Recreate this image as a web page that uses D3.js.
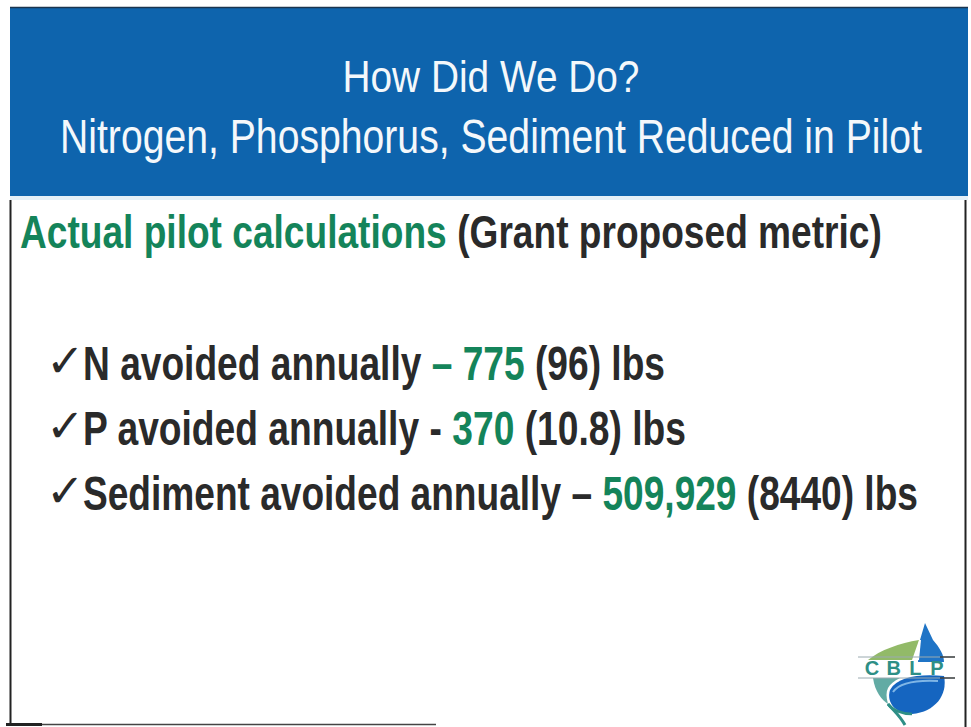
<!DOCTYPE html>
<html><head><meta charset="utf-8">
<script src="https://cdn.jsdelivr.net/npm/d3@7/dist/d3.min.js"></script>
<style>html,body{margin:0;padding:0;background:#fff;}svg{display:block;}</style>
</head><body>
<script>
// ---- data ----
const titleLines = ["How Did We Do?", "Nitrogen, Phosphorus, Sediment Reduced in Pilot"];
const subheadGreen = "Actual pilot calculations";
const subheadDark = " (Grant proposed metric)";
const nutrients = ["N", "P", "Sediment"];
const separators = ["\u2013", "-", "\u2013"];
const actualValues = ["775", "370", "509,929"];
const proposedValues = ["96", "10.8", "8440"];
const unitLabel = "lbs";
const logoLetters = ["C", "B", "L", "P"];

// ---- style ----
const W = 971, H = 727;
const BLUE = "#0e64ad", GREEN = "#14845a", DARK = "#2a2a2a", TEAL = "#2e8f86";
const NARROW = "'Liberation Sans Narrow','Arial Narrow','Liberation Sans',Arial,sans-serif";

const svg = d3.select("body").append("svg").attr("width", W).attr("height", H);
svg.append("rect").attr("width", W).attr("height", H).attr("fill", "#fff");

// header band
svg.append("rect").attr("x", 10).attr("y", 7).attr("width", 958).attr("height", 189).attr("fill", BLUE);
svg.append("line").attr("x1", 10).attr("x2", 968).attr("y1", 7.5).attr("y2", 7.5).attr("stroke", "#1a3550").attr("stroke-width", 1.5);
svg.append("rect").attr("x", 10).attr("y", 196).attr("width", 958).attr("height", 4).attr("fill", "#e4f0f8");

// frame lines
svg.append("line").attr("x1", 10.5).attr("x2", 10.5).attr("y1", 200).attr("y2", 725).attr("stroke", "#222").attr("stroke-width", 2);
svg.append("line").attr("x1", 965.5).attr("x2", 965.5).attr("y1", 200).attr("y2", 727).attr("stroke", "#222").attr("stroke-width", 2);
svg.append("line").attr("x1", 10).attr("x2", 436).attr("y1", 724.5).attr("y2", 724.5).attr("stroke", "#444").attr("stroke-width", 1.5);
svg.append("line").attr("x1", 6).attr("x2", 42).attr("y1", 724.5).attr("y2", 724.5).attr("stroke", "#222").attr("stroke-width", 3);

// helper: a run of coloured segments, horizontally condensed to a target width
function fittedRun(x0, y, width, segs, font) {
  const g = svg.append("g");
  const nodes = segs.map(s => g.append("text").attr("x", 0).attr("y", 0)
      .attr("font-family", font.family).attr("font-weight", font.weight || "normal")
      .attr("font-size", font.size).attr("fill", s.color)
      .style("white-space", "pre").text(s.text));
  const widths = nodes.map(n => n.node().getComputedTextLength());
  const total = d3.sum(widths);
  let x = 0;
  nodes.forEach((n, i) => { n.attr("x", x); x += widths[i]; });
  g.attr("transform", `translate(${x0},${y}) scale(${width / total},1)`);
  return g;
}

// title
const titleY = d3.scaleOrdinal().domain(titleLines).range([92, 153]);
const titleW = d3.scaleOrdinal().domain(titleLines).range([297, 862]);
titleLines.forEach(t => {
  fittedRun(491 - titleW(t) / 2, titleY(t), titleW(t), [{text: t, color: "#f4f8fb"}],
    {family: NARROW, size: t === titleLines[0] ? 45 : 48});
});

// subheading
fittedRun(20, 248, 862, [{text: subheadGreen, color: GREEN}, {text: subheadDark, color: DARK}],
  {family: NARROW, weight: "bold", size: 47});

// bullets
const rowY = d3.scalePoint().domain(nutrients).range([380, 510]);
const rowW = d3.scaleOrdinal().domain(nutrients).range([582, 603, 835]);
const sepColor = d3.scaleOrdinal().domain(nutrients).range([GREEN, DARK, DARK]);

nutrients.forEach((n, i) => {
  const y = rowY(n);
  svg.append("text").attr("x", 46).attr("y", y - 3)
    .attr("font-family", "'DejaVu Sans',sans-serif").attr("font-weight", "bold").attr("font-size", 46)
    .attr("fill", DARK).text("\u2713");
  fittedRun(83, y, rowW(n), [
    {text: n + " avoided annually ", color: DARK},
    {text: separators[i], color: sepColor(n)},
    {text: " ", color: DARK},
    {text: actualValues[i], color: GREEN},
    {text: " (" + proposedValues[i] + ") " + unitLabel, color: DARK}
  ], {family: NARROW, weight: "bold", size: 48});
});

// ---- CBLP logo ----
const lg = svg.append("g");
lg.append("path").attr("d", "M925,623 L919,640 C900,643 880,650 868,660 L912,660 Z").attr("fill", "#7fae4e").attr("opacity", 0.85);
lg.append("path").attr("d", "M925,623 L933,640 C940,648 944,655 944,662 L918,662 L920,640 Z").attr("fill", "#1f74c6");
lg.append("path").attr("d", "M920,640 L918,660").attr("stroke", "#fff").attr("stroke-width", 2);
lg.append("path").attr("d", "M890,690 C898,676 920,674 944,676 C948,695 935,712 912,714 C896,714 886,703 890,690 Z").attr("fill", "#1565c0");
lg.append("path").attr("d", "M893,692 C900,682 918,680 938,681").attr("stroke", "#7fb6e6").attr("stroke-width", 2).attr("fill", "none");
lg.append("path").attr("d", "M873,678 C875,692 882,700 888,704 C884,690 888,684 900,678 Z").attr("fill", TEAL).attr("opacity", 0.75);
lg.append("path").attr("d", "M888,704 C895,712 900,716 905,725").attr("stroke", TEAL).attr("stroke-width", 3).attr("fill", "none");
lg.append("path").attr("d", "M912,714 C902,714 892,710 888,704").attr("stroke", TEAL).attr("stroke-width", 2.5).attr("fill", "none");
lg.append("line").attr("x1", 858).attr("x2", 955).attr("y1", 657).attr("y2", 657).attr("stroke", "#9aaab0").attr("stroke-width", 1);
lg.append("line").attr("x1", 858).attr("x2", 955).attr("y1", 678).attr("y2", 678).attr("stroke", "#9aaab0").attr("stroke-width", 1);
lg.append("line").attr("x1", 940).attr("x2", 955).attr("y1", 657).attr("y2", 657).attr("stroke", "#222").attr("stroke-width", 1.2);
lg.append("line").attr("x1", 940).attr("x2", 955).attr("y1", 678).attr("y2", 678).attr("stroke", "#222").attr("stroke-width", 1.2);
const lx = d3.scalePoint().domain(logoLetters).range([872, 937]);
lg.selectAll("text.logo").data(logoLetters).join("text")
  .attr("class", "logo")
  .attr("x", d => lx(d)).attr("y", 675)
  .attr("text-anchor", "middle")
  .attr("font-family", "'Liberation Sans',Arial,sans-serif").attr("font-weight", "bold")
  .attr("font-size", 20).attr("fill", TEAL)
  .text(d => d);
</script>
</body></html>
